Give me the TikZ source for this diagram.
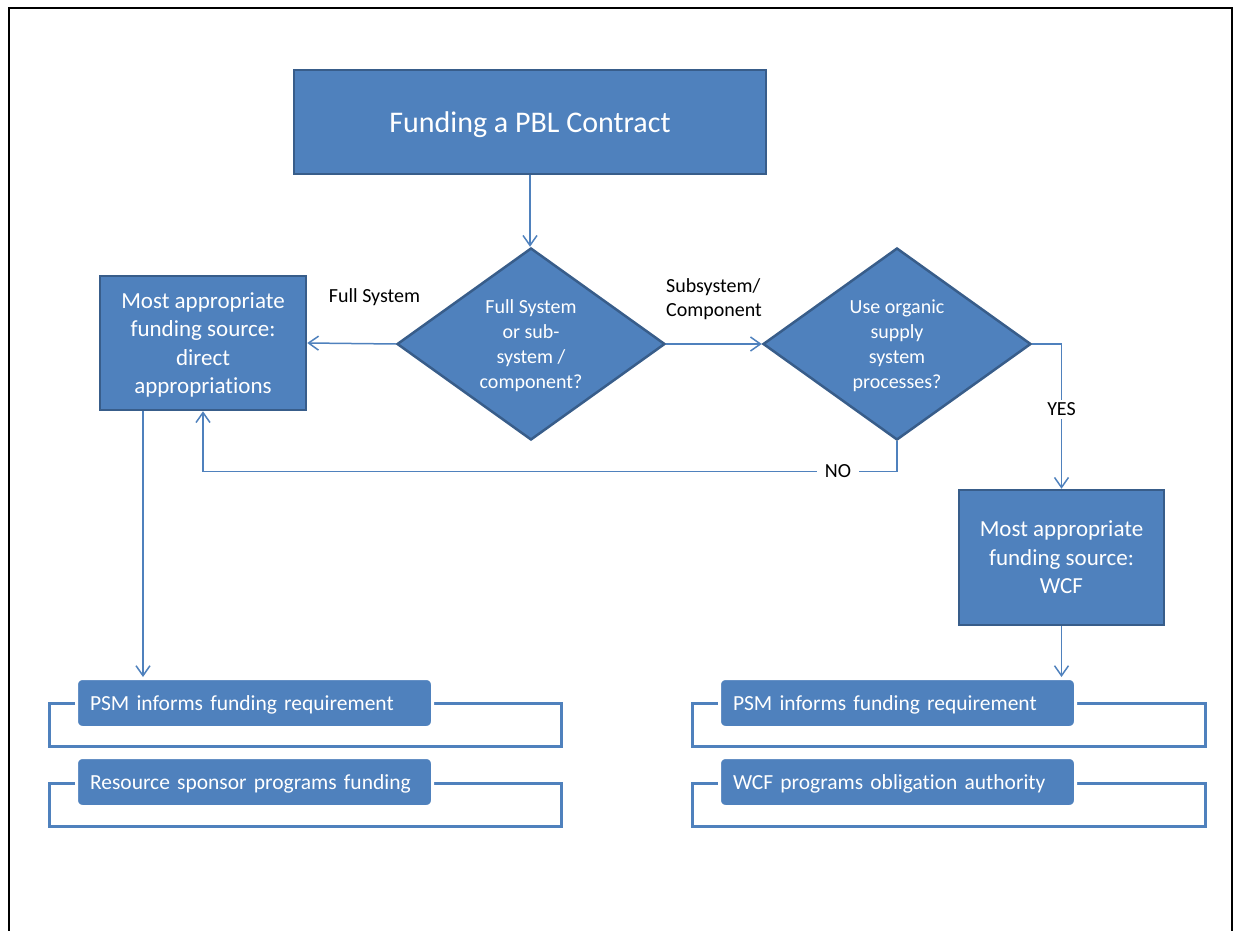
\documentclass[tikz,border=0pt]{standalone}
\usepackage{fontspec}
\setmainfont{Carlito}[Ligatures=NoCommon]
\usetikzlibrary{shapes.geometric, arrows.meta}
\definecolor{pblblue}{HTML}{4F81BD}
\definecolor{pbledge}{HTML}{385D8A}
\tikzset{
  box/.style={rectangle, draw=pbledge, fill=pblblue, line width=2.5pt, text=white, align=center, inner sep=0pt, text depth=0pt},
  query/.style={diamond, draw=pbledge, fill=pblblue, line width=2.5pt, text=white, align=center, inner sep=0pt, text depth=0pt, minimum width=268pt, minimum height=192pt, font=\fontsize{20}{25}\selectfont},
  bar/.style={rectangle, rounded corners=6pt, fill=pblblue, draw=white, line width=3pt, text=white, align=left, text width=329pt, inner xsep=13.5pt, inner ysep=0pt, text depth=0pt, minimum height=49pt, font=\fontsize{21.5}{26}\selectfont},
  bracket/.style={rectangle, draw=pblblue, line width=3pt, minimum height=43pt, inner sep=0pt},
  link/.style={draw=pblblue, line width=1.5pt, -{Straight Barb[length=10pt, width=14pt]}},
  tag/.style={font=\fontsize{20}{24}\selectfont, text=black, text depth=0pt}
}
\begin{document}
\begin{tikzpicture}[x=1pt, y=-1pt]
  \useasboundingbox (0,0) rectangle (1235,931);
  \draw[line width=2.5pt] (9,931) -- (9,8) -- (1232,8) -- (1232,931);
  % Nodes
  \node (title) [box, minimum width=472pt, minimum height=104pt, font=\fontsize{30}{36}\selectfont] at (530, 122) {Funding a PBL Contract};
  \node (fullq) [query] at (531, 344) {Full System\\or sub-\\system /\\component?};
  \node (orgq) [query] at (897, 344) {Use organic\\supply\\system\\processes?};
  \node (dapp) [box, minimum width=206pt, minimum height=134pt, font=\fontsize{23}{28.5}\selectfont] at (203, 343) {Most appropriate\\funding source:\\direct\\appropriations};
  \node (wcf) [box, minimum width=205pt, minimum height=135pt, font=\fontsize{23}{28.5}\selectfont] at (1061.5, 557.5) {Most appropriate\\funding source:\\WCF};
  % Lists
  \node (lreqframe) [bracket, minimum width=512pt] at (305, 724.5) {};
  \node (lreq) [bar] at (254.5, 703) {PSM informs funding requirement};
  \node (lsponframe) [bracket, minimum width=512pt] at (305, 804.5) {};
  \node (lspon) [bar] at (254.5, 782) {Resource sponsor programs funding};
  \node (rreqframe) [bracket, minimum width=513pt] at (948.5, 724.5) {};
  \node (rreq) [bar] at (897.5, 703) {PSM informs funding requirement};
  \node (rwcfframe) [bracket, minimum width=513pt] at (948.5, 804.5) {};
  \node (rwcf) [bar] at (897.5, 782) {WCF programs obligation authority};
  % Arrow
  \draw[link] (title.south) -- (title.south |- fullq.north);
  \draw[link] (fullq.west) -- node[pos=0.24, yshift=48pt, tag] {Full System} (dapp.east);
  \draw[link] (fullq.east) -- node[midway, yshift=46pt, tag, align=left] {Subsystem/\\Component} (orgq.west);
  \draw[link] (orgq.east) -| node[pos=0.726, fill=white, tag, inner xsep=4pt] {YES} (wcf.north);
  \draw[link] (orgq.south) -- ++(0,30) -| node[pos=0.0425, fill=white, tag, inner xsep=8pt] {NO} (dapp.south);
  \draw[link] ([xshift=-60pt]dapp.south) -- ([xshift=-60pt]dapp.south |- lreq.north);
  \draw[link] (wcf.south) -- (wcf.south |- rreq.north);
\end{tikzpicture}
\end{document}
